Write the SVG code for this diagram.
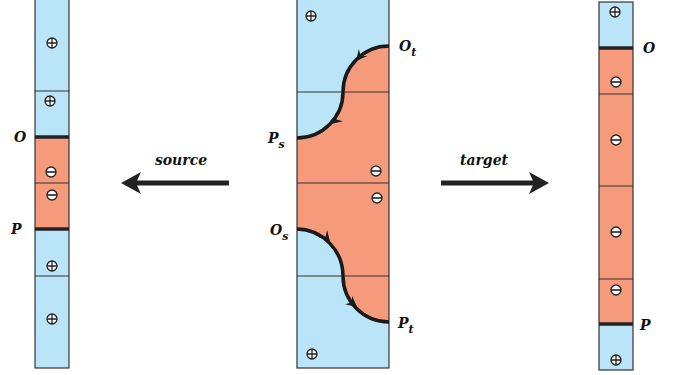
<svg xmlns="http://www.w3.org/2000/svg" width="677" height="375" viewBox="0 0 677 375">
<style>
.blue{fill:#bae4f7}
.sal{fill:#f59a7b}
.box{fill:none;stroke:#333;stroke-width:1.2}
.sep{stroke:#333;stroke-width:1.2}
.thick{stroke:#222;stroke-width:3.5}
.curve{fill:none;stroke:#1a1a1a;stroke-width:3.5}
.sym{fill:#fff;stroke:#222;stroke-width:1.3}
.lbl{font-family:"DejaVu Serif","Liberation Serif",serif;font-style:italic;font-weight:bold;font-size:14px;fill:#111}
.sub{font-size:11px}
.arr{stroke:#222;stroke-width:5}
</style>
<defs>
<g id="plus"><circle r="5" class="sym"/><path d="M-5,0H5M0,-5V5" stroke="#222" stroke-width="1.3"/></g>
<g id="minus"><circle r="5" class="sym"/><path d="M-5,0H5" stroke="#222" stroke-width="1.6"/></g>
<path id="ah" d="M0,0 L-11,-5.5 L-7,0 L-11,5.5 Z" fill="#1a1a1a"/>
</defs>

<g id="source-strip">
<rect x="35" y="0" width="34" height="137" class="blue"/>
<rect x="35" y="137" width="34" height="92" class="sal"/>
<rect x="35" y="229" width="34" height="139" class="blue"/>
<rect x="35" y="-2" width="34" height="370" class="box"/>
<line x1="35" y1="91" x2="69" y2="91" class="sep"/>
<line x1="35" y1="183" x2="69" y2="183" class="sep"/>
<line x1="35" y1="276" x2="69" y2="276" class="sep"/>
<line x1="35" y1="137" x2="69" y2="137" class="thick"/>
<line x1="35" y1="229" x2="69" y2="229" class="thick"/>
<use href="#plus" x="52" y="43"/>
<use href="#plus" x="50" y="101"/>
<use href="#minus" x="51" y="172"/>
<use href="#minus" x="52" y="195"/>
<use href="#plus" x="52" y="266"/>
<use href="#plus" x="52" y="319"/>
<text x="14" y="142" class="lbl">O</text>
<text x="11" y="234" class="lbl">P</text>
</g>

<g id="middle-box">
<rect x="297" y="0" width="92" height="368" class="blue"/>
<path d="M389,46 A46,46 0 0 0 343,92 A46,46 0 0 1 297,138 L297,229 A47,47 0 0 1 343,276 A46,46 0 0 0 389,322 Z" class="sal"/>
<rect x="297" y="-2" width="92" height="370" class="box"/>
<line x1="297" y1="92" x2="389" y2="92" class="sep"/>
<line x1="297" y1="183" x2="389" y2="183" class="sep"/>
<line x1="297" y1="276" x2="389" y2="276" class="sep"/>
<use href="#plus" x="311" y="16"/>
<use href="#minus" x="376" y="171"/>
<use href="#minus" x="377" y="198"/>
<use href="#plus" x="312" y="354"/>
<text x="399" y="51" class="lbl">O<tspan class="sub" dy="5">t</tspan></text>
<text x="268" y="143" class="lbl">P<tspan class="sub" dy="5">s</tspan></text>
<text x="270" y="235" class="lbl">O<tspan class="sub" dy="5">s</tspan></text>
<text x="398" y="328" class="lbl">P<tspan class="sub" dy="5">t</tspan></text>
</g>

<g id="target-strip">
<rect x="599" y="2" width="34" height="46" class="blue"/>
<rect x="599" y="48" width="34" height="276" class="sal"/>
<rect x="599" y="324" width="34" height="46" class="blue"/>
<rect x="599" y="2" width="34" height="368" class="box"/>
<line x1="599" y1="94" x2="633" y2="94" class="sep"/>
<line x1="599" y1="186" x2="633" y2="186" class="sep"/>
<line x1="599" y1="279" x2="633" y2="279" class="sep"/>
<line x1="599" y1="48" x2="633" y2="48" class="thick"/>
<line x1="599" y1="324" x2="633" y2="324" class="thick"/>
<use href="#plus" x="615" y="12"/>
<use href="#minus" x="616" y="82"/>
<use href="#minus" x="616" y="140"/>
<use href="#minus" x="616" y="232"/>
<use href="#minus" x="616" y="290"/>
<use href="#plus" x="616" y="360"/>
<text x="643" y="53" class="lbl">O</text>
<text x="640" y="330" class="lbl">P</text>
</g>

<g id="connectors">
<path d="M389,46 A46,46 0 0 0 343,92 A46,46 0 0 1 297,138" class="curve"/>
<path d="M297,229 A47,47 0 0 1 343,276 A46,46 0 0 0 389,322" class="curve"/>
<use href="#ah" transform="translate(356,61) rotate(130)"/>
<use href="#ah" transform="translate(331,124) rotate(140)"/>
<use href="#ah" transform="translate(330,242) rotate(50)"/>
<use href="#ah" transform="translate(357,307) rotate(40)"/>
<line x1="229" y1="183" x2="136" y2="183" class="arr"/>
<path d="M121,183 L141,172 L136,183 L141,194 Z" fill="#222"/>
<line x1="441" y1="183" x2="534" y2="183" class="arr"/>
<path d="M549,183 L529,172 L534,183 L529,194 Z" fill="#222"/>
<text x="181" y="165" class="lbl" text-anchor="middle">source</text>
<text x="484" y="165" class="lbl" text-anchor="middle">target</text>
</g>
</svg>
